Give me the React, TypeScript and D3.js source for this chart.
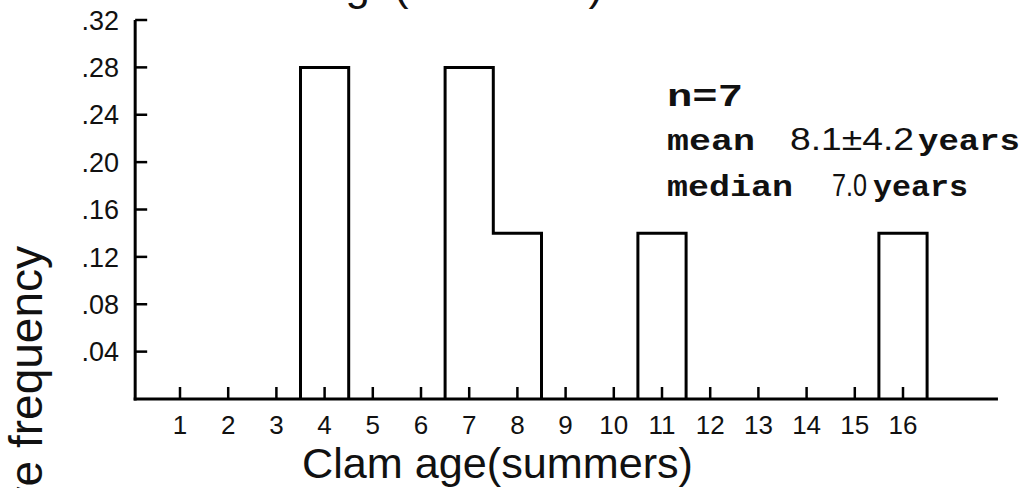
import React from "react";
import * as d3 from "d3";

const ages = [1, 2, 3, 4, 5, 6, 7, 8, 9, 10, 11, 12, 13, 14, 15, 16];
const freqs = [0, 0, 0, 0.28, 0, 0, 0.28, 0.14, 0, 0, 0.14, 0, 0, 0, 0, 0.14];
const yTicks = [0.04, 0.08, 0.12, 0.16, 0.2, 0.24, 0.28, 0.32];
const yTickLabels = [".04", ".08", ".12", ".16", ".20", ".24", ".28", ".32"];
const xLabel = "Clam age(summers)";
const yLabel = "Relative frequency";
const titleText = "Clam age(summers)";

const W = 1026;
const H = 488;

export default function App() {
  const x = d3.scaleLinear().domain([1, 16]).range([180, 903]);
  const y = d3.scaleLinear().domain([0, 0.32]).range([399, 20]);
  const x0 = x(0.07);
  const xEnd = x(17.97);

  const groups: { age: number; v: number }[][] = [];
  let cur: { age: number; v: number }[] = [];
  ages.forEach((a, i) => {
    if (freqs[i] > 0) cur.push({ age: a, v: freqs[i] });
    else if (cur.length) {
      groups.push(cur);
      cur = [];
    }
  });
  if (cur.length) groups.push(cur);

  const line = d3
    .line<[number, number]>()
    .x((d) => x(d[0]))
    .y((d) => y(d[1]));

  const paths = groups.map((g) => {
    const pts: [number, number][] = [];
    pts.push([g[0].age - 0.5, 0]);
    g.forEach((b) => {
      pts.push([b.age - 0.5, b.v]);
      pts.push([b.age + 0.5, b.v]);
    });
    pts.push([g[g.length - 1].age + 0.5, 0]);
    return line(pts) as string;
  });

  const sans = "'Liberation Sans', Arial, Helvetica, sans-serif";
  const mono = "'Liberation Mono', 'Courier New', monospace";

  return (
    <svg
      width={W}
      height={H}
      style={{ position: "absolute", left: 0, top: 0, background: "#fff" }}
    >
      <rect x={0} y={0} width={W} height={H} fill="#fff" />
      <text x={207} y={0} fontFamily={sans} fontSize={42} fill="#111" textLength={396} lengthAdjust="spacingAndGlyphs">
        {titleText}
      </text>

      {paths.map((d, i) => (
        <path key={i} d={d} fill="none" stroke="#000" strokeWidth={3} strokeLinejoin="miter" />
      ))}

      <line x1={x0} x2={x0} y1={y(0.32)} y2={y(0) + 1.5} stroke="#000" strokeWidth={3} />
      {yTicks.map((t, i) => (
        <g key={i}>
          <line x1={x0} x2={x0 + 12} y1={y(t)} y2={y(t)} stroke="#000" strokeWidth={2.5} />
          <text
            x={119}
            y={y(t)}
            dy="0.36em"
            textAnchor="end"
            fontFamily={sans}
            fontSize={27}
            fill="#111"
          >
            {yTickLabels[i]}
          </text>
        </g>
      ))}

      <line x1={x0 - 1.5} x2={xEnd} y1={y(0)} y2={y(0)} stroke="#000" strokeWidth={3} />
      {ages.map((a) => (
        <g key={a}>
          <line x1={x(a)} x2={x(a)} y1={y(0)} y2={y(0) - 12} stroke="#000" strokeWidth={2.5} />
          <text x={x(a)} y={434} textAnchor="middle" fontFamily={sans} fontSize={26} fill="#111">
            {a}
          </text>
        </g>
      ))}

      <text x={302} y={478} fontFamily={sans} fontSize={42} fill="#111" textLength={391} lengthAdjust="spacingAndGlyphs">
        {xLabel}
      </text>
      <text
        transform="translate(42,246) rotate(-90)"
        textAnchor="end"
        fontFamily={sans}
        fontSize={46}
        fill="#111"
      >
        {yLabel}
      </text>

      <text x={667} y={106} fontFamily={mono} fontWeight="bold" fontSize={31} fill="#111" textLength={76} lengthAdjust="spacingAndGlyphs">
        n=7
      </text>
      <text x={667} y={150} fontFamily={mono} fontWeight="bold" fontSize={30} fill="#111" textLength={88} lengthAdjust="spacingAndGlyphs">
        mean
      </text>
      <text x={790} y={150} fontFamily={sans} fontSize={32} fill="#111" textLength={124} lengthAdjust="spacingAndGlyphs">
        8.1±4.2
      </text>
      <text x={918} y={150} fontFamily={mono} fontWeight="bold" fontSize={30} fill="#111" textLength={102} lengthAdjust="spacingAndGlyphs">
        years
      </text>
      <text x={667} y={196} fontFamily={mono} fontWeight="bold" fontSize={30} fill="#111" textLength={126} lengthAdjust="spacingAndGlyphs">
        median
      </text>
      <text x={832} y={196} fontFamily={sans} fontSize={32} fill="#111" textLength={35} lengthAdjust="spacingAndGlyphs">
        7.0
      </text>
      <text x={873} y={196} fontFamily={mono} fontWeight="bold" fontSize={30} fill="#111" textLength={95} lengthAdjust="spacingAndGlyphs">
        years
      </text>
    </svg>
  );
}
